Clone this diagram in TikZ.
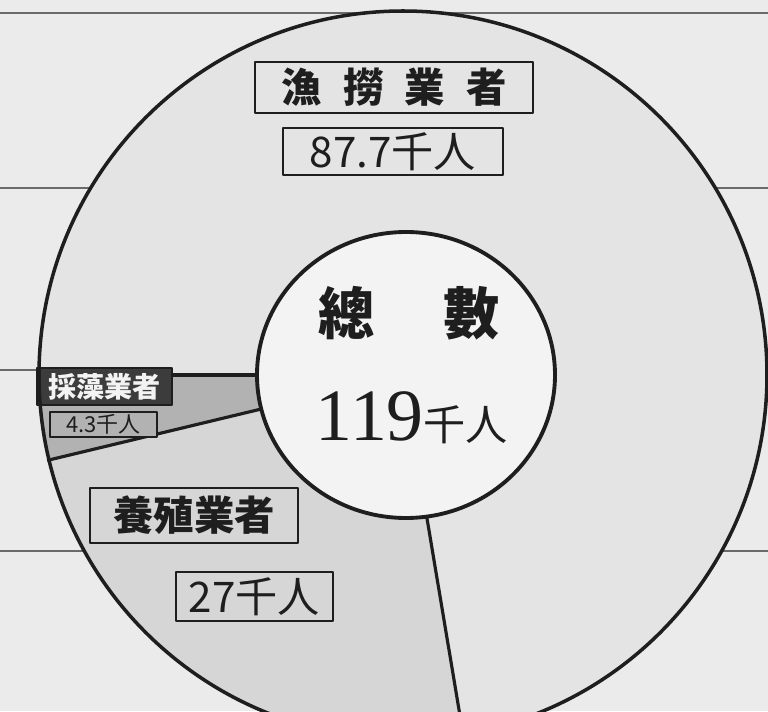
\documentclass[tikz,border=0pt]{standalone}
\usepackage{fontspec}
\newfontfamily\jp{Noto Sans CJK JP}
\newfontfamily\serifnum{Liberation Serif}
\newcommand\setpt[1]{\fontsize{#1}{#1}\selectfont}
\definecolor{paper}{HTML}{EBEBEB}
\definecolor{fishing}{HTML}{E4E4E4}
\definecolor{culture}{HTML}{D6D6D6}
\definecolor{seaweed}{HTML}{B2B2B2}
\definecolor{hub}{HTML}{F3F3F3}
\definecolor{ink}{HTML}{1E1E1E}
\definecolor{rule}{HTML}{6A6A6A}
\definecolor{darktag}{HTML}{3C3C3C}
\begin{document}
\begin{tikzpicture}[x=0.02cm,y=0.02cm,line join=round]
\tikzset{
  catbox/.style={draw=ink,line width=1.6pt,fill=#1,inner sep=0pt,text=ink,font=\jp\bfseries},
  numbox/.style={catbox=#1,font=\jp},
  hubtext/.style={inner sep=0pt,text=ink,font=\jp}
}
\clip (0,0) rectangle (768,711);
\fill[paper] (0,0) rectangle (768,711);
\foreach \y in {698,523,341,160}
  \draw[rule,line width=1pt] (0,\y) -- (768,\y);
\coordinate (c) at (403,336);
\coordinate (h) at (406,336);
\fill[fishing] (c) circle (364);
\fill[seaweed] (c) -- ++(180:364) arc (180:193.5:364) -- cycle;
\fill[culture] (c) -- ++(193.5:364) arc (193.5:279.5:364) -- cycle;
\foreach \a in {180,193.5,279.5}
  \draw[ink,line width=1.8pt] ([shift={(\a:140)}]c) -- ([shift={(\a:366)}]c);
\draw[ink,line width=2.2pt,fill=hub] (h) ellipse [x radius=149,y radius=143];
\node[hubtext,font=\jp\bfseries] (total) at (409,398) {\setpt{32pt}總\hspace{39pt}數};
\node[hubtext] (totalnum) at (412,293) {{\serifnum\setpt{42pt}119}{\setpt{24pt}千人}};
\node[catbox=fishing,minimum width=5.56cm,minimum height=1.02cm] (fishing) at (394,623.5)
  {\setpt{23pt}漁\hspace{12pt}撈\hspace{12pt}業\hspace{12pt}者};
\node[numbox=fishing,minimum width=4.4cm,minimum height=0.94cm] (fishingnum) at (393,559.5)
  {\setpt{24pt}87.7千人};
\node[catbox=culture,minimum width=4.16cm,minimum height=1.1cm] (culture) at (194,195.5)
  {\setpt{23pt}養殖業者};
\node[numbox=culture,minimum width=3.14cm,minimum height=0.98cm] (culturenum) at (254.5,114.5)
  {\setpt{24pt}27千人};
\node[catbox=darktag,text=hub,minimum width=2.7cm,minimum height=0.74cm] (seaweed) at (104.5,324.5)
  {\setpt{16pt}採藻業者};
\node[numbox=seaweed,minimum width=2.14cm,minimum height=0.5cm] (seaweednum) at (103.5,286.5)
  {\setpt{12.5pt}4.3千人};
\draw[ink,line width=2pt] (c) circle (364);
\end{tikzpicture}
\end{document}
